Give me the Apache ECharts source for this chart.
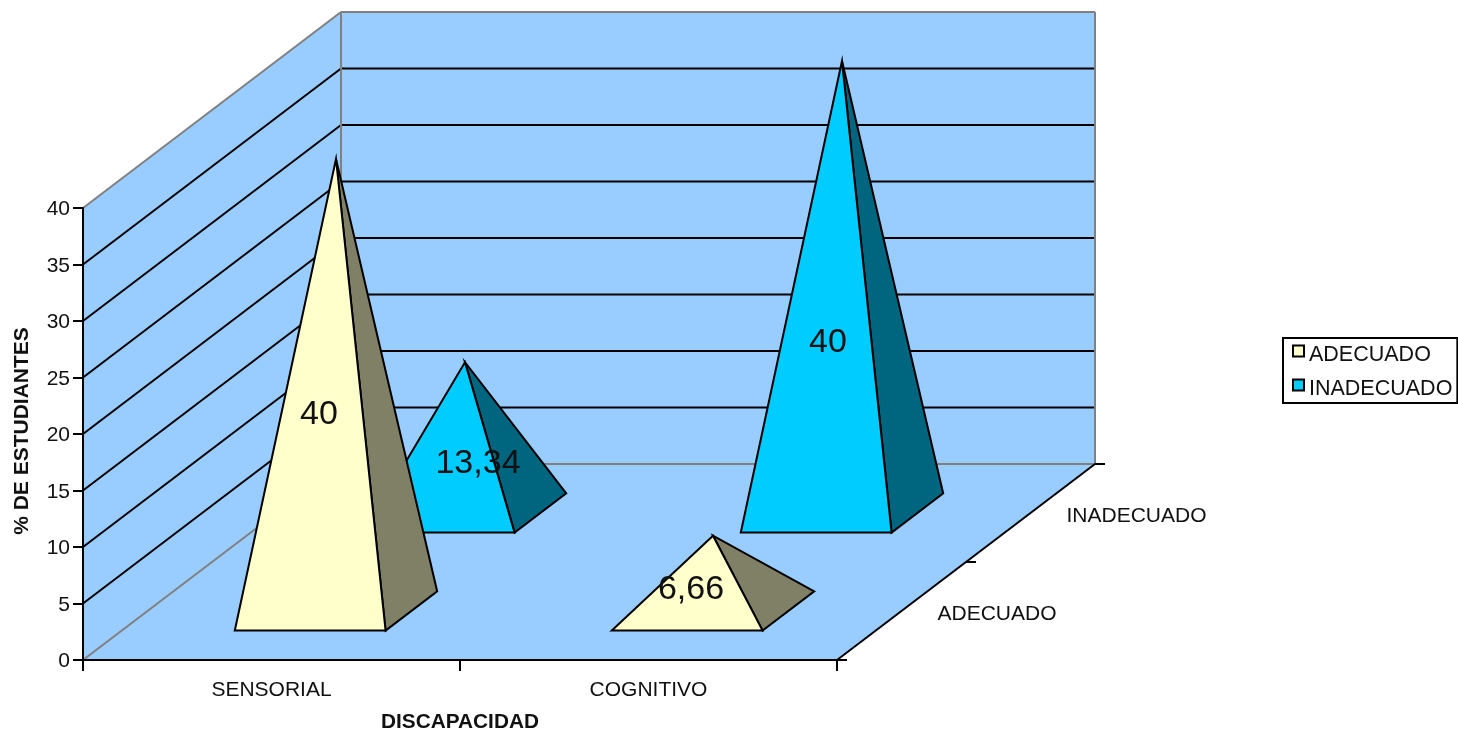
<!DOCTYPE html>
<html>
<head>
<meta charset="utf-8">
<title>Discapacidad</title>
<script src="https://cdn.jsdelivr.net/npm/echarts@6/dist/echarts.min.js"></script>
<style>
  html, body { margin: 0; padding: 0; background: #fff; }
  #chart { width: 1458px; height: 734px; }
</style>
</head>
<body>
<div id="chart"></div>
<script>
// Chart data
const categories = ['SENSORIAL', 'COGNITIVO'];
const depthCategories = ['ADECUADO', 'INADECUADO'];
const yTicks = [0, 5, 10, 15, 20, 25, 30, 35, 40];
const adecuado = [40, 6.66];
const inadecuado = [13.34, 40];

// Pseudo-3D layout: screen offset of the full depth of the floor, in pixels
const DEPTH_DX = 258;
const DEPTH_DY = -196;
const HALF_BASE_X = 0.2;     // half pyramid width, as a share of a category band
const HALF_BASE_DEPTH = 0.1; // half pyramid depth, as a share of the floor depth

// Value label shift from the middle of each pyramid's axis, in pixels
const labelShift = {
  ADECUADO: [[-17, 30], [-22, 16]],
  INADECUADO: [[13, 26], [-14, 56]]
};

const FONT = '"Liberation Sans", Arial, sans-serif';
const WALL = '#99CCFF';
const EDGE = '#808080';

function project(api, catIndex, catOffset, value, depth) {
  const c = api.coord([catIndex, value]);
  const band = api.size([1, 0])[0];
  return [c[0] + catOffset * band + depth * DEPTH_DX, c[1] + depth * DEPTH_DY];
}

function poly(points, fill, stroke, lineWidth) {
  return {
    type: 'polygon',
    shape: { points },
    style: { fill, stroke: stroke || 'none', lineWidth: lineWidth || 0, lineJoin: 'miter', miterLimit: 12 }
  };
}

function segment(a, b, stroke, lineWidth) {
  return {
    type: 'line',
    shape: { x1: a[0], y1: a[1], x2: b[0], y2: b[1] },
    style: { stroke, lineWidth, lineCap: 'butt' }
  };
}

// Side wall, back wall, floor, gridlines and the depth axis
function renderRoom(params, api) {
  const at = (cat, off, v, d) => project(api, cat, off, v, d);
  const top = yTicks[yTicks.length - 1];
  const last = categories.length - 1;
  const fl0 = at(0, -0.5, 0, 0), fl1 = at(0, -0.5, 0, 1);
  const fr0 = at(last, 0.5, 0, 0), fr1 = at(last, 0.5, 0, 1);
  const tl0 = at(0, -0.5, top, 0), tl1 = at(0, -0.5, top, 1);
  const tr1 = at(last, 0.5, top, 1);
  const children = [
    poly([fl0, tl0, tl1, fl1], WALL),
    poly([fl1, tl1, tr1, fr1], WALL),
    poly([fl0, fl1, fr1, fr0], WALL)
  ];
  yTicks.forEach(function (v) {
    const isEdge = v === 0 || v === top;
    const color = isEdge ? EDGE : '#000';
    children.push(segment(at(0, -0.5, v, 0), at(0, -0.5, v, 1), color, 2));
    children.push(segment(at(0, -0.5, v, 1), at(last, 0.5, v, 1), color, 2));
  });
  children.push(segment(fl1, tl1, EDGE, 2));
  children.push(segment(fr1, tr1, EDGE, 2));
  children.push(segment(fr0, fr1, '#000', 2));
  for (let i = 0; i <= depthCategories.length; i++) {
    const p = at(last, 0.5, 0, i / depthCategories.length);
    children.push(segment(p, [p[0] + 10, p[1]], '#000', 2));
  }
  depthCategories.forEach(function (name, i) {
    const p = at(last, 0.5, 0, (i + 0.5) / depthCategories.length);
    children.push({
      type: 'text',
      style: {
        text: name, x: p[0] + 36, y: p[1] + 3,
        align: 'left', verticalAlign: 'middle',
        fill: '#111', fontSize: 21, fontFamily: FONT
      }
    });
  });
  return { type: 'group', children };
}

function pyramidSeries(name, values, depthIndex, front, side) {
  const depth = (depthIndex + 0.5) / depthCategories.length;
  return {
    type: 'custom',
    name,
    itemStyle: { color: front },
    data: values.map((v, i) => [i, v]),
    renderItem: function (params, api) {
      const i = api.value(0), v = api.value(1);
      const apex = project(api, i, 0, v, depth);
      const a = project(api, i, -HALF_BASE_X, 0, depth - HALF_BASE_DEPTH);
      const b = project(api, i, HALF_BASE_X, 0, depth - HALF_BASE_DEPTH);
      const c = project(api, i, HALF_BASE_X, 0, depth + HALF_BASE_DEPTH);
      const base = project(api, i, 0, 0, depth);
      const shift = labelShift[name][i];
      return {
        type: 'group',
        children: [
          poly([apex, b, c], side, '#000', 2),
          poly([apex, a, b], front, '#000', 2),
          {
            type: 'text',
            style: {
              text: String(v).replace('.', ','),
              x: (apex[0] + base[0]) / 2 + shift[0],
              y: (apex[1] + base[1]) / 2 + shift[1],
              align: 'center', verticalAlign: 'middle',
              fill: '#111', fontSize: 34, fontFamily: FONT
            }
          }
        ]
      };
    }
  };
}

const chart = echarts.init(document.getElementById('chart'), null, { renderer: 'canvas' });
chart.setOption({
  animation: false,
  backgroundColor: '#fff',
  textStyle: { fontFamily: FONT },
  grid: { left: 83, top: 208, width: 754, height: 452, containLabel: false, outerBoundsMode: 'none' },
  xAxis: {
    type: 'category',
    data: categories,
    z: 5,
    name: 'DISCAPACIDAD',
    nameLocation: 'middle',
    nameGap: 52,
    nameTextStyle: { fontFamily: FONT, fontWeight: 'bold', fontSize: 20.8, color: '#111' },
    axisLine: { lineStyle: { color: '#000', width: 2 } },
    axisTick: { show: true, alignWithLabel: false, length: 11, lineStyle: { color: '#000', width: 2 } },
    axisLabel: { fontFamily: FONT, fontSize: 21, color: '#111', margin: 20 },
    splitLine: { show: false }
  },
  yAxis: {
    type: 'value',
    min: 0,
    max: 40,
    interval: 5,
    z: 5,
    name: '% DE ESTUDIANTES',
    nameLocation: 'middle',
    nameGap: 50,
    nameRotate: 90,
    nameTextStyle: { fontFamily: FONT, fontWeight: 'bold', fontSize: 21, color: '#111', padding: [0, 0, 0, 6] },
    axisLine: { show: true, lineStyle: { color: '#000', width: 2 } },
    axisTick: { show: true, length: 10, lineStyle: { color: '#000', width: 2 } },
    axisLabel: {
      margin: 13,
      formatter: '{t|{value}}',
      rich: { t: { fontFamily: FONT, fontSize: 21, color: '#111', padding: [3, 0, 0, 0] } }
    },
    splitLine: { show: false }
  },
  legend: {
    left: 1283,
    top: 338,
    orient: 'vertical',
    selectedMode: false,
    data: depthCategories,
    icon: 'rect',
    itemWidth: 11,
    itemHeight: 11,
    itemGap: 12,
    padding: [6, 5, 3, 9],
    borderColor: '#000',
    borderWidth: 2,
    backgroundColor: '#fff',
    itemStyle: { borderColor: '#000', borderWidth: 2 },
    formatter: '{t|{name}}',
    textStyle: {
      rich: { t: { fontFamily: FONT, fontSize: 21.5, color: '#111', padding: [8, 0, 0, 0] } }
    }
  },
  series: [
    { type: 'custom', name: 'Sala', silent: true, data: [[0, 0]], renderItem: renderRoom },
    pyramidSeries('INADECUADO', inadecuado, 1, '#00CCFF', '#006680'),
    pyramidSeries('ADECUADO', adecuado, 0, '#FFFFCC', '#808066')
  ]
});
</script>
</body>
</html>
